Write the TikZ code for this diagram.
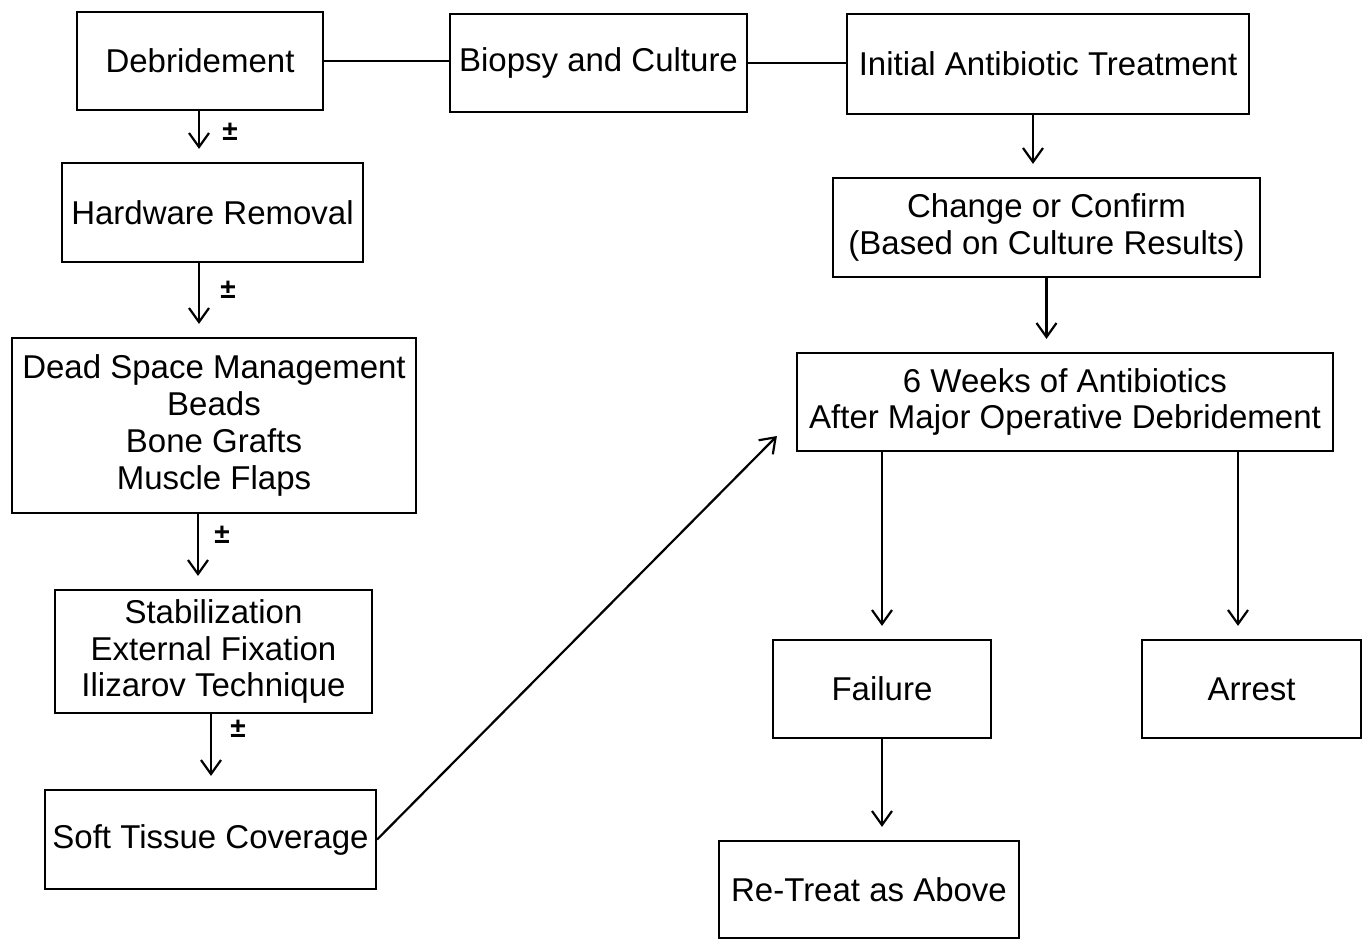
\documentclass[tikz,border=0pt]{standalone}
\usepackage{fontspec}
\setmainfont{Liberation Sans}
\usetikzlibrary{positioning,arrows.meta,calc}

\begin{document}
\begin{tikzpicture}[x=1pt, y=-1pt,
    box/.style={draw, line width=2.2pt, align=center, inner sep=0pt,
                font=\fontsize{33}{36.7}\selectfont},
    pm/.style={font=\bfseries\fontsize{28}{30}\selectfont, inner sep=0pt},
    link/.style={line width=2.2pt},
    tip/.style={-{Straight Barb[length=14pt, width=20pt, line width=2.2pt]}},
    flow/.style={link, tip, shorten >=13pt}
  ]
    \useasboundingbox (0,0) rectangle (1364,940);

    % left column
    \node[box, minimum width=246pt, minimum height=98pt]  (deb)  at (200,61)    {Debridement};
    \node[box, minimum width=297pt, minimum height=98pt]  (bio)  at (598.5,63)  {Biopsy and Culture};
    \node[box, minimum width=402pt, minimum height=100pt] (init) at (1048,64)   {Initial Antibiotic Treatment};
    \node[box, minimum width=301pt, minimum height=99pt]  (hw)   at (212.5,212.5) {Hardware Removal};
    \node[box, minimum width=404pt, minimum height=175pt] (dsm)  at (214,425.5) {Dead Space Management\\Beads\\Bone Grafts\\Muscle Flaps};
    \node[box, minimum width=317pt, minimum height=123pt] (stab) at (213.5,651.5) {Stabilization\\External Fixation\\Ilizarov Technique};
    \node[box, minimum width=331pt, minimum height=99pt]  (soft) at (210.5,839.5) {Soft Tissue Coverage};

    % right column
    \node[box, minimum width=427pt, minimum height=99pt]  (chg)  at (1046.5,227.5) {Change or Confirm\\(Based on Culture Results)};
    \node[box, minimum width=536pt, minimum height=98pt]  (wks)  at (1065,402)  {6 Weeks of Antibiotics\\After Major Operative Debridement};
    \node[box, minimum width=218pt, minimum height=98pt]  (fail) at (882,689)   {Failure};
    \node[box, minimum width=219pt, minimum height=98pt]  (arr)  at (1251.5,689) {Arrest};
    \node[box, minimum width=300pt, minimum height=97pt]  (ret)  at (869,889.5) {Re-Treat as Above};

    % plus-minus marks
    \node[pm] (pm1) at (230,132) {±};
    \node[pm] (pm2) at (228,290) {±};
    \node[pm] (pm3) at (222,535) {±};
    \node[pm] (pm4) at (238,729) {±};

    % arrow start points
    \coordinate (s1) at ($(deb.south)+(-1,0)$);
    \coordinate (s2) at ($(hw.south)+(-13.5,0)$);
    \coordinate (s3) at ($(dsm.south)+(-16,0)$);
    \coordinate (s4) at ($(stab.south)+(-2.5,0)$);
    \coordinate (s5) at ($(init.south)+(-15,0)$);
    \coordinate (s6) at ($(wks.south)+(173,0)$);
    \coordinate (e1) at ($(wks.west)+(-19,34)$);

    \draw[link] (deb.east) -- (deb.east -| bio.west);
    \draw[link] (bio.east) -- (bio.east -| init.west);

    \draw[flow] (s1) -- (s1 |- hw.north);
    \draw[flow] (s2) -- (s2 |- dsm.north);
    \draw[flow] (s3) -- (s3 |- stab.north);
    \draw[flow] (s4) -- (s4 |- soft.north);
    \draw[link, tip] (soft.east) -- (e1);

    \draw[flow] (s5) -- (s5 |- chg.north);
    \draw[flow] (chg.south) -- (chg.south |- wks.north);
    \draw[flow] (wks.south -| fail) -- (fail.north);
    \draw[flow] (s6) -- (s6 |- arr.north);
    \draw[flow] (fail.south) -- (fail.south |- ret.north);
  \end{tikzpicture}
\end{document}
